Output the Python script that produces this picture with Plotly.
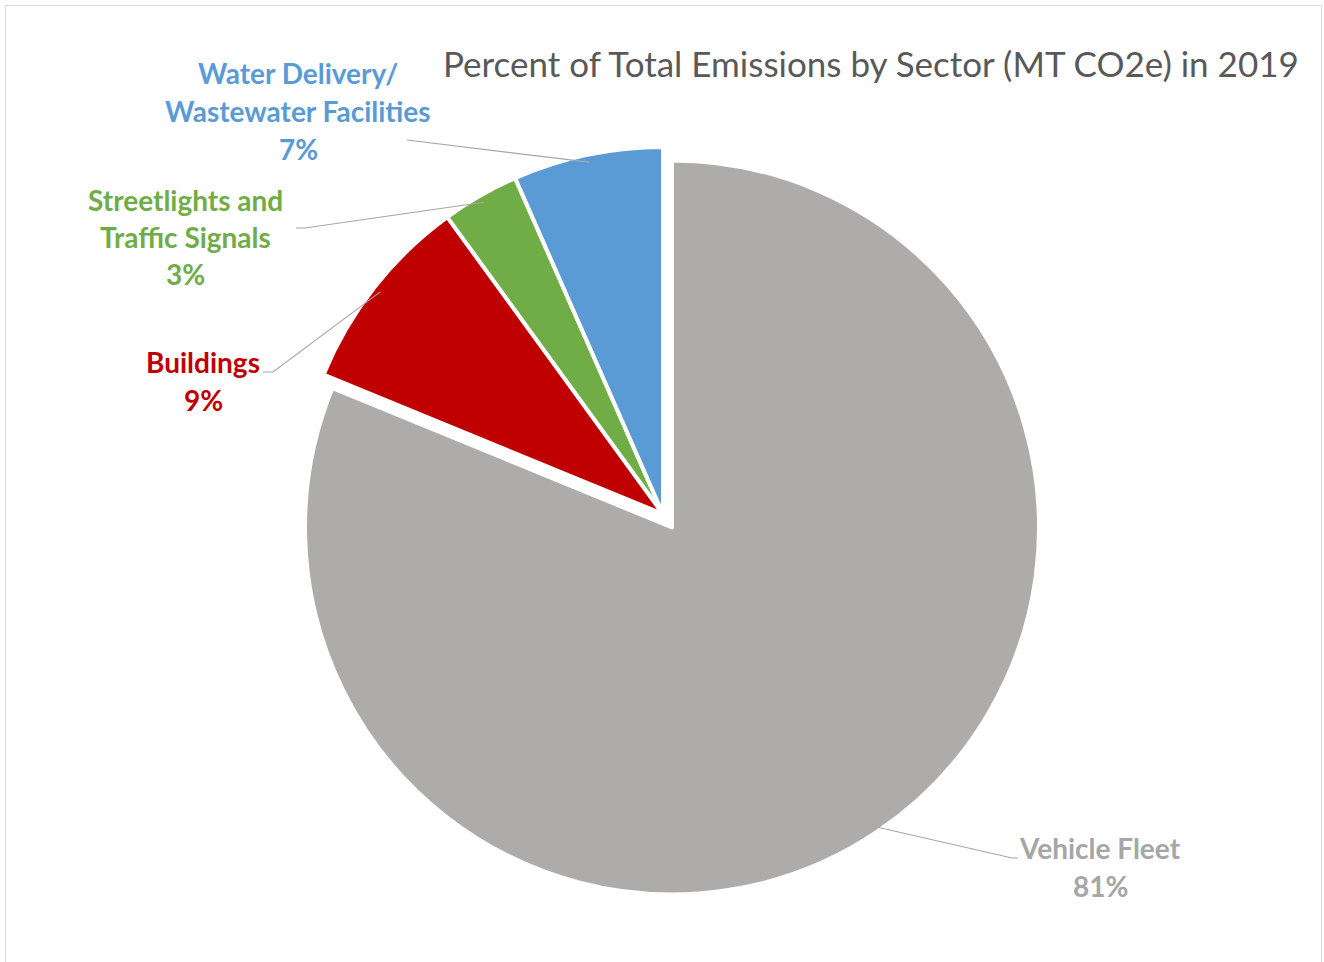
import math
import plotly.graph_objects as go

# ---- data ----
sectors = ["Vehicle Fleet", "Buildings", "Streetlights and Traffic Signals", "Water Delivery/ Wastewater Facilities"]
label_lines = [["Vehicle Fleet"], ["Buildings"], ["Streetlights and", "Traffic Signals"], ["Water Delivery/", "Wastewater Facilities"]]
percent_values = [81.2, 8.8, 3.4, 6.6]
slice_colors = ["#AEABAB", "#C00000", "#70AD47", "#5B9BD5"]
text_colors = ["#A6A6A6", "#C00000", "#70AD47", "#5B9BD5"]
pulls = [0.044, 0, 0, 0]
title_text = "Percent of Total Emissions by Sector (MT CO2e) in 2019"

# ---- layout constants (pixels) ----
W, H = 1324, 962
CX, CY, R = 663, 514, 367       # unpulled pie centre and radius
LINE_W = 4
# label centres and leader-line start points
label_pos = [(1100, 867), (203, 381), (185, 237), (298, 111)]
leader_start = [[(1018, 858), (1012, 858)], [(263, 372), (273, 372)], [(296, 228), (305, 228)], [(407, 140)]]
LINE_GAP = 37.5

def px(x):
    return x / W

def py(y):
    return 1 - y / H

maxpull = max(pulls)
half = R * (1 + maxpull)
dom_x = [px(CX - half), px(CX + half)]
dom_y = [py(CY + half), py(CY - half)]

fig = go.Figure(go.Pie(
    labels=sectors,
    values=percent_values,
    sort=False,
    direction="clockwise",
    rotation=0,
    pull=pulls,
    marker=dict(colors=slice_colors, line=dict(color="white", width=LINE_W)),
    textinfo="none",
    hoverinfo="label+percent",
    showlegend=False,
    domain=dict(x=dom_x, y=dom_y),
))

total = sum(percent_values)
shapes = []
annotations = []
cum = 0.0
for i, v in enumerate(percent_values):
    frac = v / total
    mid = (cum + frac / 2) * 2 * math.pi
    cum += frac
    ux, uy = math.sin(mid), -math.cos(mid)
    cx = CX + pulls[i] * R * ux
    cy = CY + pulls[i] * R * uy
    tip = (cx + 0.985 * (R - LINE_W / 2) * ux, cy + 0.985 * (R - LINE_W / 2) * uy)
    pts = leader_start[i] + [tip]
    path = "M " + " L ".join(f"{px(a):.5f},{py(b):.5f}" for a, b in pts)
    shapes.append(dict(type="path", xref="paper", yref="paper", path=path,
                       line=dict(color="#A6A6A6", width=1.2)))
    lines = label_lines[i] + [f"{round(frac * 100)}%"]
    n = len(lines)
    lx, ly = label_pos[i]
    for j, t in enumerate(lines):
        yy = ly + (j - (n - 1) / 2) * LINE_GAP
        annotations.append(dict(
            x=px(lx), y=py(yy), xref="paper", yref="paper", text=f"<b>{t}</b>",
            showarrow=False, xanchor="center", yanchor="middle",
            font=dict(family="Lato, Open Sans, sans-serif", size=28, color=text_colors[i]),
        ))

annotations.append(dict(
    x=px(1301), y=py(63), xref="paper", yref="paper", text=title_text,
    showarrow=False, xanchor="right", yanchor="middle",
    font=dict(family="Lato, Open Sans, sans-serif", size=35, color="#595959"),
))

# outer chart border
shapes.append(dict(type="rect", xref="paper", yref="paper",
                   x0=px(5.5), x1=px(1321.5), y0=py(975), y1=py(5.5),
                   line=dict(color="#D9D9D9", width=1), fillcolor="rgba(0,0,0,0)", layer="below"))

fig.update_layout(
    width=W, height=H,
    margin=dict(l=0, r=0, t=0, b=0),
    paper_bgcolor="white",
    plot_bgcolor="white",
    shapes=shapes,
    annotations=annotations,
)

fig.write_html("out.html", include_plotlyjs=True, full_html=True,
               config={"displayModeBar": False})
